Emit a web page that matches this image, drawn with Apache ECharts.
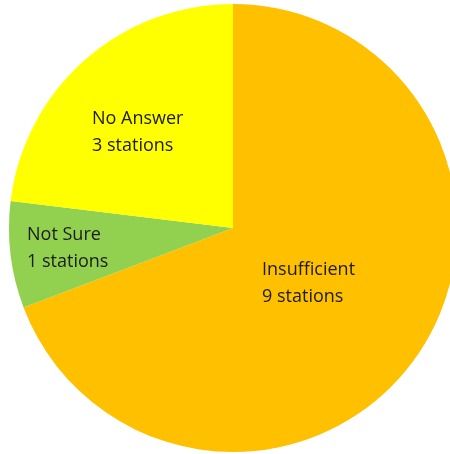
<!DOCTYPE html>
<html>
<head>
<meta charset="utf-8">
<script src="https://cdn.jsdelivr.net/npm/echarts@6/dist/echarts.min.js"></script>
<style>
  html, body { margin: 0; padding: 0; background: #ffffff; }
  #chart { width: 450px; height: 454px; }
</style>
</head>
<body>
<div id="chart"></div>
<script>
// Survey responses by station
const categories = ['Insufficient', 'Not Sure', 'No Answer'];
const stationCounts = [9, 1, 3];
const sliceColors = ['#FFC000', '#92D050', '#FFFF00'];

// Top-left corner of each two-line label block
const labelAnchors = [[262, 256], [27, 221], [92, 105]];

const chart = echarts.init(document.getElementById('chart'), null, { renderer: 'canvas' });

chart.setOption({
  animation: false,
  backgroundColor: '#ffffff',
  series: [{
    type: 'pie',
    center: [233, 228],
    radius: 224,
    startAngle: 90,
    clockwise: true,
    silent: true,
    data: categories.map((name, i) => ({
      name,
      value: stationCounts[i],
      itemStyle: { color: sliceColors[i] }
    })),
    itemStyle: { borderWidth: 0 },
    label: {
      show: true,
      position: 'inside',
      formatter: p => p.name + '\n' + p.value + ' stations',
      fontFamily: 'Open Sans',
      fontSize: 18,
      lineHeight: 27,
      color: '#1c1c1c',
      align: 'left'
    },
    labelLine: { show: false },
    labelLayout: params => ({
      x: labelAnchors[params.dataIndex][0],
      y: labelAnchors[params.dataIndex][1],
      align: 'left',
      verticalAlign: 'top'
    })
  }]
});
</script>
</body>
</html>
